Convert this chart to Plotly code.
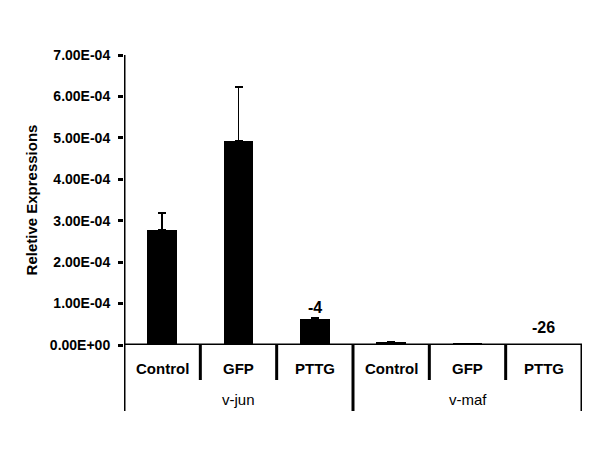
import plotly.graph_objects as go

groups = ["v-jun", "v-maf"]
categories = ["Control", "GFP", "PTTG", "Control", "GFP", "PTTG"]
values = [2.78e-4, 4.92e-4, 0.62e-4, 0.07e-4, 0.03e-4, 0.0]
errors = [0.40e-4, 1.30e-4, 0.04e-4, 0.0, 0.0, 0.0]
fold_labels = ["", "", "-4", "", "", "-26"]
ytick_vals = [0, 1e-4, 2e-4, 3e-4, 4e-4, 5e-4, 6e-4, 7e-4]
ytick_text = ["0.00E+00", "1.00E-04", "2.00E-04", "3.00E-04", "4.00E-04", "5.00E-04", "6.00E-04", "7.00E-04"]

FONT = "Liberation Sans, Arial, sans-serif"
xpos = [i + 0.5 for i in range(len(categories))]

fig = go.Figure()
fig.add_trace(go.Bar(
    x=xpos, y=values, width=0.39,
    marker=dict(color="black", line=dict(width=0)),
    error_y=dict(type="data", array=errors, arrayminus=[0]*len(errors),
                 symmetric=False, color="black", thickness=1.8, width=4),
    showlegend=False,
))

shapes = []
shapes.append(dict(type="line", xref="x", yref="y", x0=0, x1=6, y0=0, y1=0,
                   line=dict(color="black", width=3)))
for b in range(0, 7):
    long = b % 3 == 0
    shapes.append(dict(type="line", xref="x", yref="paper", x0=b, x1=b,
                       y0=-0.2276 if long else -0.1207, y1=1 if b == 0 else 0,
                       line=dict(color="black", width=3)))

annotations = []
for i, c in enumerate(categories):
    annotations.append(dict(x=xpos[i], y=-23/290, xref="x", yref="paper", text=c,
                            showarrow=False, yanchor="middle",
                            font=dict(family=FONT, size=15, color="black", weight="bold")))
for g, name in enumerate(groups):
    annotations.append(dict(x=g*3 + 1.5, y=-54/290, xref="x", yref="paper", text=name,
                            showarrow=False, yanchor="middle",
                            font=dict(family=FONT, size=15, color="black")))
for i, t in enumerate(fold_labels):
    if t:
        annotations.append(dict(x=xpos[i], y=values[i] + errors[i], xref="x", yref="y", text=t,
                                showarrow=False, yanchor="bottom",
                                yshift=(0 if values[i] > 0 else 7),
                                font=dict(family=FONT, size=16, color="black", weight="bold")))

fig.update_layout(
    width=600, height=450,
    margin=dict(l=124, r=18, t=55, b=105),
    paper_bgcolor="white", plot_bgcolor="white",
    xaxis=dict(range=[0, 6], showticklabels=False, showgrid=False, zeroline=False,
               showline=False, ticks="", automargin=False),
    yaxis=dict(range=[0, 7e-4], tickvals=ytick_vals, ticktext=ytick_text,
               showgrid=False, zeroline=False, showline=False, automargin=False,
               ticks="outside", ticklen=5, tickwidth=3, tickcolor="black",
               ticklabelstandoff=5,
               tickfont=dict(family=FONT, size=14, color="black", weight="bold"),
               title=dict(text="Reletive Expressions", standoff=8,
                          font=dict(family=FONT, size=15, color="black", weight="bold"))),
    shapes=shapes, annotations=annotations,
    bargap=0,
)

fig.write_html("out.html", config={"displayModeBar": False},
               post_script="document.body.style.margin='0';")
